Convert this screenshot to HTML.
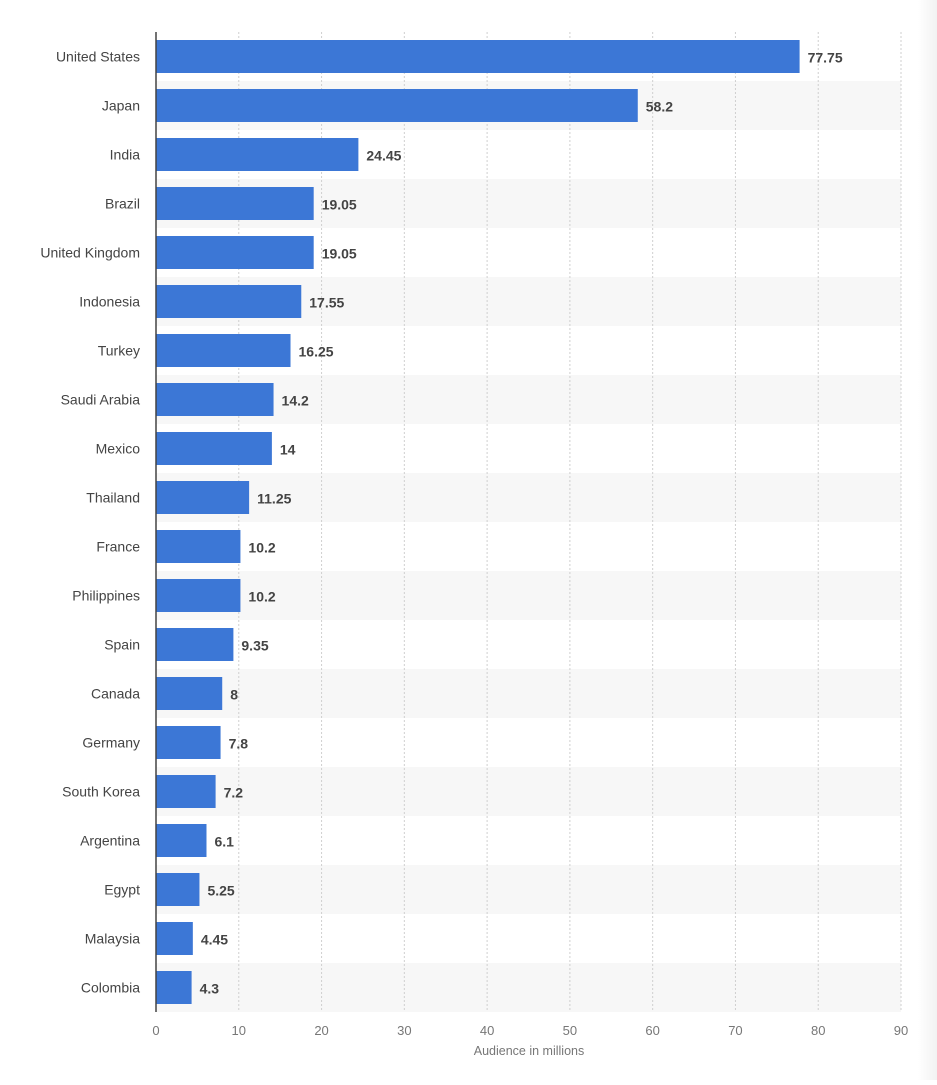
<!DOCTYPE html>
<html><head><meta charset="utf-8"><style>
body{margin:0;background:#fff;font-family:"Liberation Sans",sans-serif;}
svg text{font-family:"Liberation Sans",sans-serif;}
</style></head><body>
<svg id="chart" width="937" height="1080" xmlns="http://www.w3.org/2000/svg">
<defs><linearGradient id="edge" x1="0" x2="1"><stop offset="0" stop-color="#fff"/><stop offset="1" stop-color="#f2f2f2"/></linearGradient></defs>
<rect x="918" y="0" width="19" height="1080" fill="url(#edge)"/>
<g id="bands"></g><g id="grid"></g><g id="bars"></g><g id="labels"></g>
</svg>
<script>
const categories=["United States","Japan","India","Brazil","United Kingdom","Indonesia","Turkey","Saudi Arabia","Mexico","Thailand","France","Philippines","Spain","Canada","Germany","South Korea","Argentina","Egypt","Malaysia","Colombia"];
const values=[77.75,58.2,24.45,19.05,19.05,17.55,16.25,14.2,14,11.25,10.2,10.2,9.35,8,7.8,7.2,6.1,5.25,4.45,4.3];
const valueLabels=["77.75","58.2","24.45","19.05","19.05","17.55","16.25","14.2","14","11.25","10.2","10.2","9.35","8","7.8","7.2","6.1","5.25","4.45","4.3"];
const ticks=[0,10,20,30,40,50,60,70,80,90];
const NS="http://www.w3.org/2000/svg";
const x0=156,x1=901,topY=32,rowH=49,barH=33;
const xs=v=>x0+(v/90)*(x1-x0);
const ys=i=>topY+i*rowH;
function mk(tag,attrs,parent){const e=document.createElementNS(NS,tag);for(const k in attrs)e.setAttribute(k,attrs[k]);document.getElementById(parent).appendChild(e);return e;}
const bottomY=ys(categories.length);
categories.forEach((c,i)=>{
 if(i%2==1){const b=mk('rect',{x:x0,y:ys(i),width:x1-x0,height:rowH,fill:'#f7f7f7'},'bands');
 
 }
});
ticks.forEach(t=>{
 if(t>0){const g=mk('line',{x1:xs(t),x2:xs(t),y1:topY,y2:bottomY,stroke:'#cfcfcf','stroke-dasharray':'2,2'},'grid');
 
 }
 const tl=mk('text',{x:xs(t),y:bottomY+23,'text-anchor':'middle','font-size':13,fill:'#777'},'labels');
 tl.textContent=t;
 
 
});
categories.forEach((c,i)=>{
 const y=ys(i)+8;
 const r=mk('rect',{x:x0,y:y,width:xs(values[i])-x0,height:barH,fill:'#3c77d6'},'bars');
 
 
 const l=mk('text',{x:140,y:y+barH/2+5,'text-anchor':'end','font-size':14,fill:'#444'},'labels');
 l.textContent=c;
 
 
 const v=mk('text',{x:xs(values[i])+8,y:y+barH/2+6,'font-size':14,'font-weight':'bold',fill:'#444'},'labels');
 v.textContent=valueLabels[i];
 
 
});
const ax=mk('line',{x1:x0,x2:x0,y1:topY,y2:bottomY,stroke:'#444','stroke-width':1.5},'labels');


const at=mk('text',{x:529,y:bottomY+43,'text-anchor':'middle','font-size':12.5,fill:'#777'},'labels');
at.textContent='Audience in millions';


</script>
</body></html>
